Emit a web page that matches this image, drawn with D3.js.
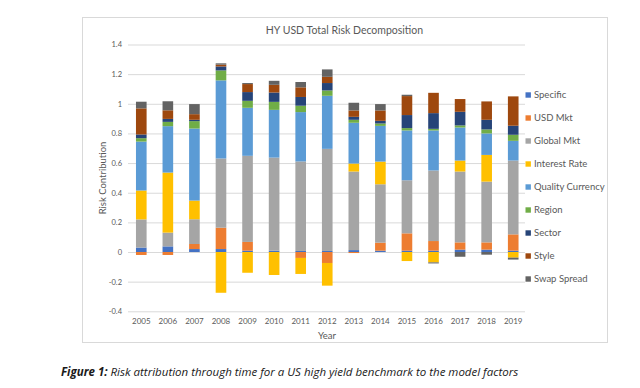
<!DOCTYPE html>
<html>
<head>
<meta charset="utf-8">
<script src="https://cdn.jsdelivr.net/npm/d3@7"></script>
<style>
  body { margin: 0; background: #fff; }
  svg { display: block; }
</style>
</head>
<body>
<script>
// data
var years = ["2005","2006","2007","2008","2009","2010","2011","2012","2013","2014","2015","2016","2017","2018","2019"];

var seriesNames = ["Specific","USD Mkt","Global Mkt","Interest Rate","Quality Currency","Region","Sector","Style","Swap Spread"];
var seriesColors = ["#4472C4","#ED7D31","#A5A5A5","#FFC000","#5B9BD5","#70AD47","#264478","#9E480E","#636363"];

var specific        = [0.030, 0.038, 0.020, 0.020, 0.009, 0.009, 0.007, 0.007, 0.013, 0.009, 0.009, 0.009, 0.016, 0.016, 0.009];
var usdMkt          = [-0.020, -0.020, 0.034, 0.144, 0.059, 0.000, -0.040, -0.074, -0.007, 0.054, 0.117, 0.065, 0.049, 0.049, 0.110];
var globalMkt       = [0.190, 0.093, 0.167, 0.467, 0.581, 0.628, 0.604, 0.689, 0.530, 0.394, 0.358, 0.476, 0.478, 0.410, 0.498];
var interestRate    = [0.195, 0.405, 0.126, -0.275, -0.140, -0.155, -0.108, -0.153, 0.054, 0.153, -0.061, -0.070, 0.074, 0.180, -0.038];
var qualityCurrency = [0.330, 0.313, 0.486, 0.527, 0.324, 0.322, 0.333, 0.358, 0.275, 0.241, 0.336, 0.270, 0.223, 0.145, 0.133];
var region          = [0.023, 0.029, 0.050, 0.067, 0.047, 0.054, 0.043, 0.036, 0.020, 0.016, 0.016, 0.011, 0.014, 0.027, 0.041];
var sector          = [0.025, 0.020, 0.009, 0.027, 0.059, 0.063, 0.059, 0.050, 0.020, 0.018, 0.088, 0.106, 0.092, 0.065, 0.061];
var style           = [0.176, 0.058, 0.038, 0.012, 0.054, 0.052, 0.065, 0.042, 0.043, 0.070, 0.128, 0.137, 0.086, 0.124, 0.198];
var swapSpread      = [0.045, 0.061, 0.068, 0.009, 0.007, 0.027, 0.036, 0.050, 0.052, 0.043, 0.009, -0.007, -0.032, -0.018, -0.013];

var yTicks      = [-0.4, -0.2, 0, 0.2, 0.4, 0.6, 0.8, 1, 1.2, 1.4];
var yTickLabels = ["-0.4","-0.2","0","0.2","0.4","0.6","0.8","1","1.2","1.4"];

var seriesValues = [specific, usdMkt, globalMkt, interestRate, qualityCurrency, region, sector, style, swapSpread];

// table for d3.stack
var table = years.map(function(y, i) {
  var row = {year: y};
  seriesNames.forEach(function(name, k) { row[name] = seriesValues[k][i]; });
  return row;
});

var screen = {width: 640, height: 388};
var plot = {left: 128, right: 525, top: 44.5, bottom: 311.3};

var svg = d3.select("body")
            .append("svg")
            .attr("width", screen.width)
            .attr("height", screen.height);

// chart frame
svg.append("rect")
   .attr("x", 82.5)
   .attr("y", 17.5)
   .attr("width", 525)
   .attr("height", 325)
   .attr("fill", "#fff")
   .attr("stroke", "#d9d9d9")
   .attr("stroke-width", 1);

var x = d3.scaleBand()
          .domain(years)
          .range([plot.left, plot.right + 1.5])
          .paddingInner(0.6)
          .paddingOuter(0.3);

var y = d3.scaleLinear()
          .domain([-0.4, 1.4])
          .range([plot.bottom, plot.top]);

// gridlines + y labels
var yAxis = svg.append("g")
               .attr("transform", "translate(" + plot.left + ",0)")
               .call(d3.axisLeft(y)
                       .tickValues(yTicks)
                       .tickFormat(function(d, i) { return yTickLabels[i]; })
                       .tickSizeInner(-(plot.right - plot.left))
                       .tickSizeOuter(0)
                       .tickPadding(6));

yAxis.select(".domain").remove();
yAxis.selectAll("line")
     .attr("stroke", "#d9d9d9");
yAxis.selectAll("text")
     .attr("fill", "#595959")
     .attr("font-family", "Lato")
     .attr("font-size", "7.5px");

var stack = d3.stack()
              .keys(seriesNames)
              .offset(d3.stackOffsetDiverging);

var layers = svg.append("g")
                .selectAll("g")
                .data(stack(table))
                .enter()
                .append("g")
                .attr("fill", function(d, i) { return seriesColors[i]; });

layers.selectAll("rect")
      .data(function(d) { return d; })
      .enter()
      .append("rect")
      .attr("x", function(d) { return x(d.data.year); })
      .attr("width", x.bandwidth())
      .attr("y", function(d) { return y(Math.max(d[0], d[1])); })
      .attr("height", function(d) { return Math.abs(y(d[0]) - y(d[1])); });

// x labels
var xAxis = svg.append("g")
               .attr("transform", "translate(0," + plot.bottom + ")")
               .call(d3.axisBottom(x).tickSize(0).tickPadding(7));

xAxis.select(".domain").remove();
xAxis.selectAll("text")
     .attr("fill", "#595959")
     .attr("font-family", "Lato")
     .attr("font-size", "8px");

// title
svg.append("text")
   .attr("x", 344.5)
   .attr("y", 34)
   .attr("text-anchor", "middle")
   .attr("fill", "#595959")
   .attr("font-family", "Lato")
   .attr("font-size", "10.5px")
   .text("HY USD Total Risk Decomposition");

// axis titles
svg.append("text")
   .attr("x", 327)
   .attr("y", 339)
   .attr("text-anchor", "middle")
   .attr("fill", "#595959")
   .attr("font-family", "Lato")
   .attr("font-size", "9.5px")
   .text("Year");

svg.append("text")
   .attr("transform", "translate(106,178) rotate(-90)")
   .attr("text-anchor", "middle")
   .attr("fill", "#595959")
   .attr("font-family", "Lato")
   .attr("font-size", "9.5px")
   .text("Risk Contribution");

// legend
var legend = svg.append("g")
                .selectAll("g")
                .data(seriesNames)
                .enter()
                .append("g")
                .attr("transform", function(d, i) { return "translate(525.5," + (95 + i * 23) + ")"; });

legend.append("rect")
      .attr("x", 0)
      .attr("y", -2.7)
      .attr("width", 5.4)
      .attr("height", 5.4)
      .attr("fill", function(d, i) { return seriesColors[i]; });

legend.append("text")
      .attr("x", 8.5)
      .attr("y", 3.3)
      .attr("fill", "#595959")
      .attr("font-family", "Lato")
      .attr("font-size", "9.5px")
      .text(function(d) { return d; });

// caption
var caption = svg.append("text")
                 .attr("x", 61)
                 .attr("y", 376)
                 .attr("fill", "#1a1a1a")
                 .attr("font-family", "Open Sans")
                 .attr("font-style", "italic")
                 .attr("font-size", "11.5px");

caption.append("tspan")
       .attr("font-weight", "bold")
       .text("Figure 1:");

caption.append("tspan")
       .text(" Risk attribution through time for a US high yield benchmark to the model factors");
</script>
</body>
</html>
